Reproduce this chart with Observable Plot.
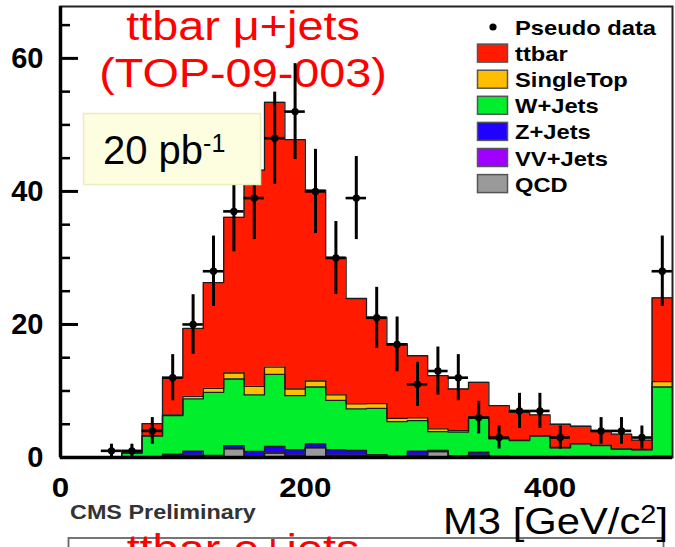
<!DOCTYPE html>
<html><head><meta charset="utf-8">
<script src="https://cdn.jsdelivr.net/npm/d3@7"></script>
<script src="https://cdn.jsdelivr.net/npm/@observablehq/plot@0.6"></script>
<style>
html,body{margin:0;padding:0;background:#fff;}
#wrap{position:relative;width:675px;height:547px;overflow:hidden;font-family:"Liberation Sans",Arial,sans-serif;}
#wrap svg{position:absolute;left:0;top:0;}
</style></head><body><div id="wrap"></div>
<script>
// ---- data ----
const nBins = 30;
const m3Range = [0, 500];
const pseudoData = [0,0,1,1,4,12,20,28,37,39,48,52,40,30,39,21,17,11,13,12,6,3,7,7,3,0,4,4,3,28];
const qcd       = [0,0,0,0,0,0.3,0.3,0.2,1.3,0.2,0.65,0.3,1.45,0.3,0.3,0.4,0.1,0.3,0.9,0.2,0.3,0.1,0.05,0.05,0,0,0,0,0,0.1];
const vvJets    = [0,0,0,0,0,0,0.05,0,0.05,0.05,0.05,0.05,0.05,0.05,0.05,0,0,0.05,0,0,0.05,0,0,0,0,0,0,0,0,0];
const zJets     = [0,0,0,0,0,0.2,0.6,0.1,0.45,0.65,0.95,0.8,0.55,0.8,0.7,0,0.1,0.6,0.15,0,0.45,0.1,0.05,0.05,0.05,0,0,0,0,0.1];
const wJets     = [0,0,0.1,0.7,3.2,5.8,7.85,9.5,10.0,8.5,10.85,8.15,8.55,7.45,6.25,7.0,5.2,4.6,2.85,3.6,5.15,2.6,2.45,3.1,1.4,2.05,1.8,1.25,1.15,10.4];
const singleTop = [0,0,0,0,0.1,0.1,0.4,0.6,0.9,1.3,1.1,1.0,0.9,0.8,0.75,0.7,0.5,0.4,0.4,0.25,0.15,0.1,0.1,0.1,0.05,0.05,0.05,0.05,0.05,0.8];
const ttbar     = [0,0,0,0,1.8,5.6,10.2,15.9,23.4,32.5,39.8,37.5,28.7,20.7,15.85,13.0,11.2,9.35,8.0,6.25,5.2,4.9,4.15,3.1,3.5,2.6,2.05,2.2,1.4,12.6];
const seriesNames  = ["QCD","VV+Jets","Z+Jets","W+Jets","SingleTop","ttbar"];
const seriesColors = ["#9a9a9a","#a000ff","#2000ff","#00ee2c","#ffbf00","#ff1a00"];
const legendOrder  = ["ttbar","SingleTop","W+Jets","Z+Jets","VV+Jets","QCD"];
const yTicksMajor = [0,20,40,60];
const yTicksMinor = [5,10,15,25,30,35,45,50,55,65];
const xTicks = [0,200,400];
const yMax = 67.8;

// ---- build stacked step series ----
const binW = (m3Range[1]-m3Range[0])/nBins;
const comps = [qcd, vvJets, zJets, wJets, singleTop, ttbar];
const stacks = [];
let base = new Array(nBins).fill(0);
comps.forEach((vals, ci) => {
  const pts = [];
  for (let k = 0; k < nBins; k++) pts.push({s: seriesNames[ci], x: m3Range[0] + k*binW, y1: base[k], y2: base[k] + vals[k]});
  pts.push({s: seriesNames[ci], x: m3Range[1], y1: pts[nBins-1].y1, y2: pts[nBins-1].y2});
  stacks.push(pts);
  base = base.map((b, k) => b + vals[k]);
});
const dataRows = pseudoData.map((n, k) => ({lo: m3Range[0]+k*binW, hi: m3Range[0]+(k+1)*binW, x: m3Range[0]+(k+0.5)*binW, n, e: Math.sqrt(n)})).filter(d => d.n > 0);

const wrap = document.getElementById("wrap");

// ---- underlay: red title (behind data) ----
const under = d3.create("svg").attr("width", 675).attr("height", 547);
const titleG = under.append("g").attr("fill", "#ff0000").attr("font-family", "Liberation Sans, Arial, sans-serif").attr("font-size", 40).attr("text-anchor", "middle");
titleG.append("text").attr("transform", "translate(243,40) scale(1.17,1)").text("ttbar \u03bc+jets");
titleG.append("text").attr("transform", "translate(243,87) scale(1.17,1)").text("(TOP-09-003)");
wrap.appendChild(under.node());

// ---- the chart ----
const marks = [];
stacks.forEach((pts, i) => marks.push(Plot.areaY(pts, {x: "x", y1: "y1", y2: "y2", curve: "step-after", fill: seriesColors[i]})));
stacks.forEach((pts, i) => marks.push(Plot.lineY(pts, {x: "x", y: "y2", curve: "step-after", stroke: "#1c1c1c", strokeWidth: 1.3})));
marks.push(
  Plot.ruleX(dataRows, {x: "x", y1: d => d.n - d.e, y2: d => d.n + d.e, stroke: "black", strokeWidth: 3}),
  Plot.ruleY(dataRows, {y: "n", x1: "lo", x2: "hi", stroke: "black", strokeWidth: 2.6}),
  Plot.dot(dataRows, {x: "x", y: "n", r: 3.7, fill: "black"}),
  Plot.frame({stroke: "#222", strokeWidth: 2}),
  Plot.ruleX([m3Range[0]], {stroke: "black", strokeWidth: 3.5}),
  Plot.ruleY([0], {stroke: "black", strokeWidth: 3.5}),
  Plot.axisY({ticks: yTicksMinor, tickSize: -10, tickFormat: () => "", strokeWidth: 2.5, label: null}),
  Plot.axisY({ticks: yTicksMajor, tickSize: -18, tickPadding: 35, strokeWidth: 3, fontSize: 29, fontWeight: "bold", label: null}),
  Plot.axisX({ticks: xTicks, tickSize: 0, tickPadding: 20, fontSize: 28, fontWeight: "bold", label: null})
);
const chart = Plot.plot({
  width: 675, height: 547,
  marginLeft: 60, marginRight: 3, marginTop: 6, marginBottom: 90,
  x: {domain: m3Range},
  y: {domain: [0, yMax]},
  style: {background: "transparent", fontFamily: "Liberation Sans, Arial, sans-serif", color: "black", overflow: "visible"},
  marks
});
wrap.appendChild(chart);
d3.select(chart).selectAll('g[aria-label="x-axis tick label"] text').each(function() {
  const t = this.getAttribute("transform") || "";
  this.setAttribute("transform", t + " scale(1.12,1)");
});

// ---- overlay: legend, lumi box, labels ----
const over = d3.create("svg").attr("width", 675).attr("height", 547).attr("font-family", "Liberation Sans, Arial, sans-serif");
// lumi box
over.append("rect").attr("x", 83.5).attr("y", 113.5).attr("width", 177).attr("height", 71).attr("fill", "#fdfde0").attr("stroke", "#ececc0").attr("stroke-width", 1.5);
const lumi = over.append("text").attr("x", 103).attr("y", 164).attr("font-size", 40).attr("fill", "black");
lumi.append("tspan").text("20 pb");
lumi.append("tspan").attr("dy", -12).attr("font-size", 25).text("-1");
// legend
const legendColor = n => seriesColors[seriesNames.indexOf(n)];
const rowCy = i => 27 + i * 26.1;
over.append("circle").attr("cx", 493).attr("cy", rowCy(0)).attr("r", 3.6).attr("fill", "black");
over.append("text").attr("transform", `translate(515,${rowCy(0) + 8}) scale(1.13,1)`).attr("font-size", 21).attr("font-weight", "bold").text("Pseudo data");
legendOrder.forEach((n, i) => {
  const cy = rowCy(i + 1);
  over.append("rect").attr("x", 477.5).attr("y", cy - 9).attr("width", 30).attr("height", 18).attr("fill", legendColor(n)).attr("stroke", "#555").attr("stroke-width", 1.5);
  over.append("text").attr("transform", `translate(515,${cy + 8}) scale(1.13,1)`).attr("font-size", 21).attr("font-weight", "bold").text(n);
});
// CMS Preliminary
over.append("text").attr("transform", "translate(70,519) scale(1.17,1)").attr("font-size", 20).attr("font-weight", "bold").attr("fill", "#333").text("CMS Preliminary");
// next panel (cut off)
over.append("rect").attr("x", 68.5).attr("y", 538).attr("width", 595).attr("height", 40).attr("fill", "none").attr("stroke", "#666").attr("stroke-width", 1.8);
over.append("text").attr("transform", "translate(243,563) scale(1.17,1)").attr("text-anchor", "middle").attr("font-size", 40).attr("fill", "#ff0000").text("ttbar e+jets");
// axis title
const xt = over.append("text").attr("transform", "translate(668,534) scale(1.16,1)").attr("text-anchor", "end").attr("font-size", 36).attr("fill", "black");
xt.append("tspan").text("M3 [GeV/c");
xt.append("tspan").attr("dy", -11).attr("font-size", 25).text("2");
xt.append("tspan").attr("dy", 11).text("]");
wrap.appendChild(over.node());
</script></body></html>
